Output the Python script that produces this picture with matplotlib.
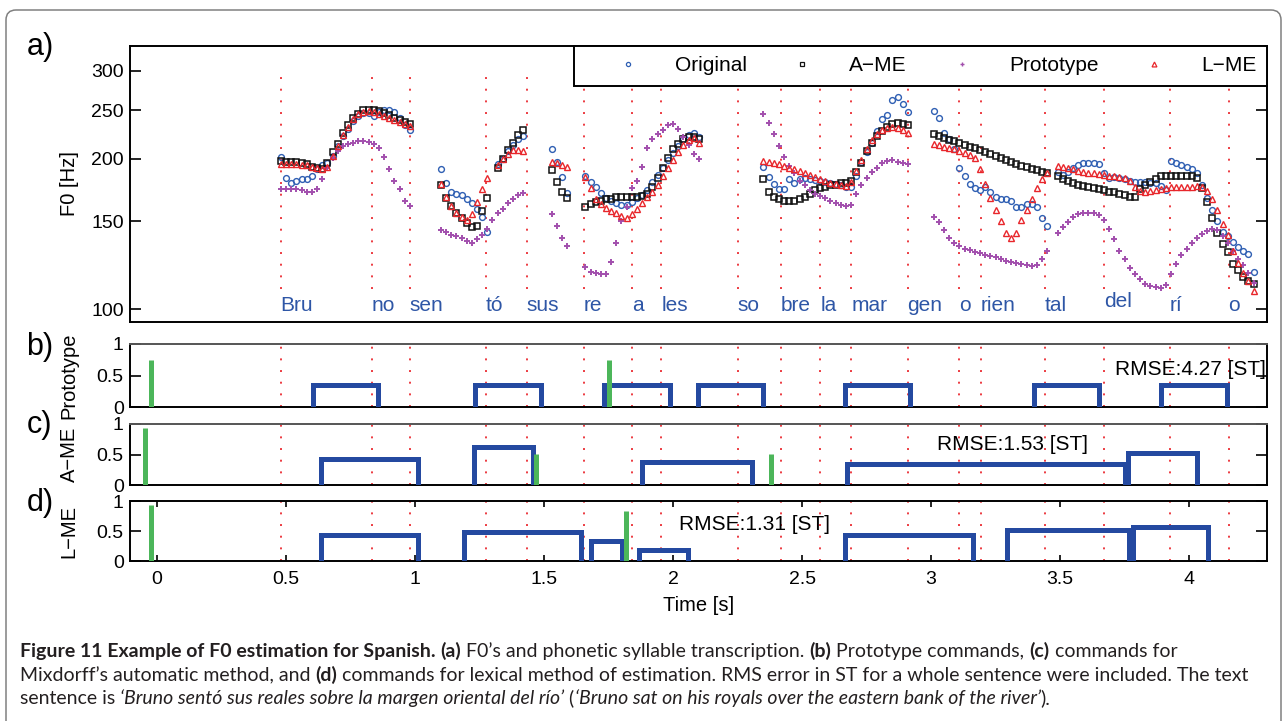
import matplotlib
matplotlib.use("Agg")
import matplotlib.pyplot as plt
import numpy as np
from matplotlib.lines import Line2D
from matplotlib.patches import FancyBboxPatch
from matplotlib.ticker import FormatStrFormatter, NullLocator
from matplotlib.transforms import IdentityTransform
from matplotlib.font_manager import FontProperties

plt.rcParams['font.family'] = ['Liberation Sans', 'DejaVu Sans']
plt.rcParams['axes.linewidth'] = 1.4

FRAME = 0.02  # hop between F0 frames [s]

# syllable onsets [s] and their transcription
syl_times = [0.479, 0.833, 0.979, 1.273, 1.433, 1.654, 1.842, 1.955, 2.251, 2.417,
             2.570, 2.691, 2.909, 3.107, 3.193, 3.440, 3.670, 3.926, 4.153]
syl_names = ["Bru", "no", "sen", "tó", "sus", "re", "a", "les", "so", "bre",
             "la", "mar", "gen", "o", "rien", "tal", "del", "rí", "o"]

# F0 contours [Hz]: start time of each voiced stretch + values every FRAME seconds
orig_t0 = [0.48, 1.10, 1.32, 1.53, 1.66, 2.35, 3.01, 3.49]
orig_f0 = [
    [202, 183, 179, 181, 182, 182, 185, 191, 194, 196, 203, 212, 222, 230, 238, 244,
     247, 247, 244, 248, 250, 250, 248, 242, 234, 228],
    [191, 179, 172, 170, 169, 166, 163, 159, 153, 143],
    [195, 200, 207, 213, 219, 222],
    [209, 197, 184, 171],
    [185, 180, 175.5, 171, 167, 164.5, 163, 162, 162, 164, 167, 169, 173.5, 179.5,
     185.5, 191.5, 199, 205.5, 212, 219, 223, 225, 221],
    [193, 184, 178.5, 174, 174, 182, 179, 182, 183, 182.5, 181.5, 181, 180, 179, 178,
     177, 175.5, 176, 185, 197, 206, 215, 227, 240, 245, 262, 266, 257, 248],
    [249, 241, 225, 219, 209, 192, 185, 178.5, 174.6, 173, 176, 171.5, 167.5, 166, 166,
     165, 160.5, 160.5, 162.5, 162.5, 160.5, 152, 146.5],
    [188.5, 186, 188.5, 191.5, 194, 196, 196, 196.5, 195, 187, 183, 184, 183, 182.5,
     181, 180, 180, 180, 179, 178.7, 176.5, 173, 198, 196, 194.5, 193, 190.5, 187, 177,
     167, 158, 150, 143, 140, 136.5, 133, 131, 129, 119],
]

ame_t0 = [0.48, 1.10, 1.32, 1.53, 1.66, 2.35, 3.01, 3.49]
ame_f0 = [
    [198, 197, 197, 197, 196, 195, 193, 192, 191, 196, 206, 214, 225, 234, 241, 246,
     250, 251, 251, 249, 247, 245, 242, 239, 237, 235],
    [177, 167, 161, 156, 152, 149, 146, 147, 157, 167],
    [192, 200, 208, 215, 223, 228],
    [190, 180, 172, 167],
    [160.5, 162.5, 164, 165, 166, 166.5, 167.5, 168, 168, 168, 168, 168.5, 170, 176,
     183, 191.5, 201, 209, 214.5, 219, 221, 221, 219.5],
    [182, 172, 168, 166, 165, 165, 165, 166.5, 168, 170.5, 173, 175, 176, 177, 177.5,
     178.7, 179, 181, 188, 196, 207, 215, 222, 227, 232, 235, 236, 234.5, 234],
    [224, 222, 220, 218.5, 217, 215.5, 213.5, 211.5, 210, 208, 206.5, 204.5, 202.5,
     200.5, 199, 197, 195.5, 193.5, 192.5, 191, 190, 188.5, 187],
    [184.5, 182, 180.5, 179, 177.5, 176.5, 175.5, 175, 174.3, 173, 172, 171.5, 170.5,
     169.5, 168, 168, 174, 177, 180, 182, 184.5, 185, 185, 185, 185, 185, 185, 183, 175,
     164, 152, 142, 135, 130, 123, 120, 116, 114, 112.5],
]

proto_t0 = [0.48, 1.10, 1.53, 1.66, 2.35, 3.01, 3.49]
proto_f0 = [
    [174, 174, 174, 174, 173, 172, 172, 174, 182, 192, 201, 207, 212, 214, 215, 217,
     217, 216, 214, 210, 202, 191, 181, 174, 165, 161],
    [144, 143, 141, 140, 139, 137, 136, 138, 141, 145, 151, 156, 159, 163, 166, 169, 171],
    [155, 147, 139, 134],
    [121.5, 119, 118, 117.5, 117.5, 124.5, 136, 150, 160, 175, 181, 193, 210, 219, 224,
     229, 233.5, 234.5, 230, 221, 213, 205, 200],
    [246, 236, 224, 212, 202, 193.5, 187, 181, 177, 173.5, 170.5, 168.5, 167, 165, 163,
     162, 161, 162, 170, 177.5, 183, 188.5, 192, 196, 198, 199, 197, 196, 195.5],
    [153, 149.5, 144, 139, 136, 134, 132, 131.5, 130.5, 129.5, 128.5, 128, 127, 126, 125,
     124.5, 123.5, 123, 122.5, 122, 122.5, 126, 131],
    [142, 146, 149.5, 153, 155, 156, 156, 155.5, 154.5, 151, 145, 138, 131, 126, 121,
     117.5, 115, 112.5, 111.3, 111, 110.5, 112, 117.5, 123, 128.5, 132, 136, 139, 141.5,
     143.5, 144.5, 144, 140, 135.5, 131, 126, 122.5, 118, 113],
]

lme_t0 = [0.48, 1.10, 1.32, 1.53, 1.66, 2.35, 3.01, 3.49]
lme_f0 = [
    [195, 195, 195, 195, 194, 194, 193, 192, 191, 193, 203, 212, 223, 232, 240, 246,
     248, 249, 248, 246, 244, 241, 239, 237, 235, 233],
    [178, 168, 161, 156, 153, 151, 155, 164, 174, 183],
    [194, 200, 205, 208, 208, 207],
    [197, 196, 194, 193],
    [184, 175, 166.5, 162.5, 159.5, 157, 155.5, 153.5, 152, 155, 159, 163, 167.5, 172,
     177.5, 184.5, 191.5, 199, 206, 213, 218, 220, 215],
    [198.5, 197.5, 196.5, 195, 193.5, 192, 190.5, 189, 187, 185.5, 184, 182.5, 180.5,
     179, 178, 177, 176.5, 180, 189, 199, 209, 218, 224, 228, 231, 232, 231, 229, 225],
    [214, 213, 211.5, 210.5, 209, 207, 205.5, 204, 200.5, 191, 178, 167, 158, 150, 142,
     139, 142, 151, 158, 166, 175, 182, 187],
    [193.5, 193, 192, 190.5, 189.5, 188.5, 187.5, 187, 186.5, 185.5, 185, 184.5, 184,
     183, 181, 176, 172.5, 172, 172.5, 173, 174, 175, 175.5, 176, 176, 176, 176, 176.5,
     175.5, 172.5, 166.5, 158, 148, 140.5, 131, 123.5, 118, 114, 109],
]

# Fujisaki commands: phrase impulses (time, Ap) and accent steps (on, off, Aa)
proto_phr_t = [-0.022, 1.75]
proto_phr_a = [0.75, 0.75]
proto_acc_on = [0.605, 1.233, 1.734, 2.096, 2.667, 3.400, 3.891]
proto_acc_off = [0.857, 1.487, 1.987, 2.349, 2.920, 3.652, 4.147]
proto_acc_a = [0.35, 0.35, 0.35, 0.35, 0.35, 0.35, 0.35]

ame_phr_t = [-0.046, 1.469, 2.381]
ame_phr_a = [0.93, 0.51, 0.51]
ame_acc_on = [0.637, 1.228, 1.879, 2.675, 3.763]
ame_acc_off = [1.010, 1.456, 2.304, 3.752, 4.032]
ame_acc_a = [0.42, 0.62, 0.38, 0.35, 0.52]

lme_phr_t = [-0.022, 1.818]
lme_phr_a = [0.93, 0.83]
lme_acc_on = [0.637, 1.188, 1.681, 1.866, 2.667, 3.296, 3.781]
lme_acc_off = [1.010, 1.645, 1.802, 2.056, 3.161, 3.768, 4.072]
lme_acc_a = [0.43, 0.48, 0.33, 0.19, 0.43, 0.52, 0.56]

rmse_proto, rmse_ame, rmse_lme = 4.27, 1.53, 1.31

C_ORIG = "#2f5fb3"
C_AME = "#111111"
C_PROTO = "#a24fad"
C_LME = "#e8262b"
C_DOT = "#ec3a40"
C_SYL = "#2e56a6"
C_CMD = "#2449a0"
C_PHR = "#4cb65a"
C_CAPTION = "#231f20"
DOTS = (0, (1, 5))
XLIM = (-0.105, 4.302)

W, H = 1287, 721
fig = plt.figure(figsize=(W / 100, H / 100), dpi=100)


def px_axes(x0, y0, x1, y1):
    return fig.add_axes([x0 / W, 1 - y1 / H, (x1 - x0) / W, (y1 - y0) / H])


def track(t0s, segs):
    t = np.concatenate([t0 + FRAME * np.arange(len(s)) for t0, s in zip(t0s, segs)])
    f = np.concatenate([np.asarray(s, dtype=float) for s in segs])
    return t, f


ax_a = px_axes(130, 46, 1267, 322)
ax_b = px_axes(130, 344, 1267, 407)
ax_c = px_axes(130, 424, 1267, 485)
ax_d = px_axes(130, 501, 1267, 561)

# ---- a) F0 contours
ax_a.vlines(syl_times, 110, 300, colors=C_DOT, linestyles=DOTS, lw=1.4, zorder=1)

styles = [
    (orig_t0, orig_f0, dict(marker="o", mec=C_ORIG, ms=4.2, mew=1.0)),
    (ame_t0, ame_f0, dict(marker="s", mec=C_AME, ms=4.4, mew=1.1)),
    (proto_t0, proto_f0, dict(marker="+", mec=C_PROTO, ms=4.5, mew=1.4)),
    (lme_t0, lme_f0, dict(marker="^", mec=C_LME, ms=5.0, mew=1.0)),
]
for t0s, segs, kw in styles:
    t, f = track(t0s, segs)
    ax_a.plot(t, f, ls="none", mfc="none", zorder=3, **kw)

for t, s in zip(syl_times, syl_names):
    ax_a.text(t, 101 if s == "del" else 99, s, ha="left", va="baseline",
              color=C_SYL, fontsize=15, zorder=4)

ax_a.set_yscale("log")
ax_a.set_xlim(XLIM)
ax_a.set_ylim(94.3, 336.5)
ax_a.set_yticks([100, 150, 200, 250, 300], labels=["100", "150", "200", "250", "300"])
ax_a.yaxis.set_minor_locator(NullLocator())
ax_a.set_xticks([])
ax_a.tick_params(axis="y", direction="in", length=8, width=1.2, left=True, right=True,
                 labelsize=14, pad=4.5)
ax_a.set_ylabel("F0 [Hz]", fontsize=14.5)
ax_a.yaxis.set_label_coords(-0.045, 0.5)

handles = [
    Line2D([], [], ls="none", marker="o", mfc="none", mec=C_ORIG, ms=3, mew=0.9),
    Line2D([], [], ls="none", marker="s", mfc="none", mec=C_AME, ms=3, mew=0.9),
    Line2D([], [], ls="none", marker="+", mec=C_PROTO, ms=3.5, mew=1.0),
    Line2D([], [], ls="none", marker="^", mfc="none", mec=C_LME, ms=3.5, mew=0.9),
]
leg = ax_a.legend(handles, ["Original", "A\u2212ME", "Prototype", "L\u2212ME"],
                  loc="upper right", bbox_to_anchor=(0.3903, 0.849, 0.6097, 0.151),
                  mode="expand", ncol=4, numpoints=1, fontsize=15, borderaxespad=0,
                  borderpad=0.5, handlelength=4.2, handletextpad=0.15, columnspacing=0.5,
                  fancybox=False, framealpha=1, edgecolor="black")
leg.get_frame().set_linewidth(1.4)


# ---- b), c), d) command panels
def command_panel(ax, phr_t, phr_a, acc_on, acc_off, acc_a, name, rmse, txt_x, txt_y, txt_ha):
    for t in syl_times:
        ax.axvline(t, color=C_DOT, lw=1.4, ls=DOTS, zorder=1)
    for a, b, h in zip(acc_on, acc_off, acc_a):
        ax.plot([a, a, b, b], [0, h, h, 0], color=C_CMD, lw=3.6,
                solid_joinstyle="miter", zorder=3)
    ax.vlines(phr_t, 0, phr_a, colors=C_PHR, lw=3.6, zorder=4)
    ax.set_xlim(XLIM)
    ax.set_ylim(0, 1)
    ax.set_yticks([0, 0.5, 1])
    ax.yaxis.set_major_formatter(FormatStrFormatter("%g"))
    ax.tick_params(axis="y", direction="in", length=8, width=1.2, left=True, right=True,
                   labelsize=14, pad=4.5)
    ax.set_ylabel(name, fontsize=14.5)
    ax.yaxis.set_label_coords(-0.045, 0.5)
    ax.text(txt_x, txt_y, "RMSE:%.2f [ST]" % rmse, transform=ax.transAxes,
            ha=txt_ha, va="center", fontsize=15, zorder=5)


command_panel(ax_b, proto_phr_t, proto_phr_a, proto_acc_on, proto_acc_off, proto_acc_a,
              "Prototype", rmse_proto, 0.999, 0.60, "right")
command_panel(ax_c, ame_phr_t, ame_phr_a, ame_acc_on, ame_acc_off, ame_acc_a,
              "A\u2212ME", rmse_ame, 0.71, 0.66, "left")
command_panel(ax_d, lme_phr_t, lme_phr_a, lme_acc_on, lme_acc_off, lme_acc_a,
              "L\u2212ME", rmse_lme, 0.483, 0.60, "left")

for ax in (ax_b, ax_c):
    ax.set_xticks([])
    ax.spines["top"].set_color("#555555")
ax_d.set_xticks([0, 0.5, 1, 1.5, 2, 2.5, 3, 3.5, 4])
ax_d.xaxis.set_major_formatter(FormatStrFormatter("%g"))
ax_d.tick_params(axis="x", direction="in", length=4.5, width=1.2, top=True, bottom=True,
                 labelsize=14, pad=7)
ax_d.set_xlabel("Time [s]", fontsize=14.5, labelpad=6)

# panel letters
for letter, ypx in (("a)", 47), ("b)", 347), ("c)", 425), ("d)", 503)):
    fig.text(40 / W, 1 - ypx / H, letter, ha="center", va="center", fontsize=22)

# page frame
border = FancyBboxPatch((6, -30), 1275, 741, boxstyle="round,pad=0,rounding_size=10",
                        transform=IdentityTransform(), fc="none", ec="#808080", lw=1.1)
fig.add_artist(border)


# caption, written piece by piece to mix bold/italic runs
def caption_line(x, y, parts, size=14):
    renderer = fig.canvas.get_renderer()
    for text, weight, style in parts:
        prop = FontProperties(family=["Lato", "DejaVu Sans"], size=size,
                              weight=weight, style=style)
        fig.text(x, H - y, text, fontproperties=prop, transform=IdentityTransform(),
                 ha="left", va="baseline", color=C_CAPTION)
        w_full = renderer.get_text_width_height_descent("|" + text + "|", prop, ismath=False)[0]
        w_bars = renderer.get_text_width_height_descent("||", prop, ismath=False)[0]
        x += w_full - w_bars


caption_line(20, 657, [
    ("Figure 11 Example of F0 estimation for Spanish. ", "bold", "normal"),
    ("(a)", "bold", "normal"),
    (" F0\u2019s and phonetic syllable transcription. ", "normal", "normal"),
    ("(b)", "bold", "normal"),
    (" Prototype commands, ", "normal", "normal"),
    ("(c)", "bold", "normal"),
    (" commands for", "normal", "normal"),
])
caption_line(20, 681, [
    ("Mixdorff\u2019s automatic method, and ", "normal", "normal"),
    ("(d)", "bold", "normal"),
    (" commands for lexical method of estimation. RMS error in ST for a whole sentence "
     "were included. The text", "normal", "normal"),
])
caption_line(20, 704, [
    ("sentence is ", "normal", "normal"),
    ("\u2018Bruno sentó sus reales sobre la margen oriental del río\u2019", "normal", "italic"),
    (" (", "normal", "normal"),
    ("\u2018Bruno sat on his royals over the eastern bank of the river\u2019", "normal", "italic"),
    (").", "normal", "normal"),
])

fig.savefig("out.png", dpi=100)
